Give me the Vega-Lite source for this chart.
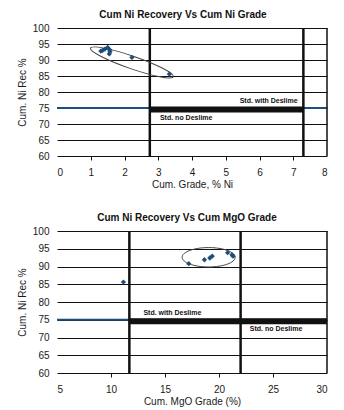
{
  "$schema": "https://vega.github.io/schema/vega-lite/v6.json",
  "background": "white",
  "padding": {"left": 17, "top": 10, "right": 5, "bottom": 5},
  "spacing": 24,
  "config": {
    "font": "Liberation Sans",
    "view": {"stroke": null},
    "title": {"fontSize": 10, "fontWeight": "bold", "color": "#111111", "offset": 3, "frame": "group"},
    "axis": {
      "labelFont": "Liberation Sans",
      "labelFontSize": 10,
      "labelColor": "#1a1a1a",
      "labelOverlap": false,
      "titleFont": "Liberation Sans",
      "titleFontSize": 10,
      "titleFontWeight": "normal",
      "titleColor": "#1a1a1a",
      "domain": false
    },
    "axisX": {
      "grid": false,
      "ticks": true,
      "tickSize": 4,
      "tickWidth": 1,
      "labelPadding": 7,
      "titlePadding": 2
    },
    "axisY": {
      "grid": true,
      "gridColor": "#111111",
      "gridWidth": 1,
      "gridOpacity": 1,
      "ticks": false,
      "labelPadding": 8,
      "titlePadding": 5
    }
  },
  "datasets": {
    "ni_grade": [
      {"grade": 1.3, "recovery": 92.8},
      {"grade": 1.35, "recovery": 93.0},
      {"grade": 1.42, "recovery": 93.4},
      {"grade": 1.5, "recovery": 93.9},
      {"grade": 1.56, "recovery": 93.2},
      {"grade": 1.57, "recovery": 92.6},
      {"grade": 1.55, "recovery": 91.9},
      {"grade": 2.22, "recovery": 90.8},
      {"grade": 3.33, "recovery": 85.6}
    ],
    "ni_limits": [{"grade": 2.75}, {"grade": 7.3}],
    "ni_band": [{"from": 2.75, "to": 7.3, "recovery": 74.5}],
    "ni_cluster": [{"grade": 2.22, "recovery": 89.24}],
    "ni_notes": [
      {"grade": 7.13, "recovery": 77.05, "note": "Std. with Deslime", "side": "right"},
      {"grade": 3.05, "recovery": 72.0, "note": "Std. no Deslime", "side": "left"}
    ],
    "mgo_grade": [
      {"mgo": 11.15, "recovery": 85.6},
      {"mgo": 17.2, "recovery": 90.8},
      {"mgo": 18.65, "recovery": 91.9},
      {"mgo": 19.15, "recovery": 92.4},
      {"mgo": 19.37, "recovery": 92.9},
      {"mgo": 20.8, "recovery": 93.9},
      {"mgo": 21.2, "recovery": 93.3},
      {"mgo": 21.3, "recovery": 92.9}
    ],
    "mgo_limits": [{"mgo": 11.7}, {"mgo": 22.0}],
    "mgo_band": [{"from": 11.7, "to": 30, "recovery": 74.6}],
    "mgo_cluster": [{"mgo": 19.04, "recovery": 92.6}],
    "mgo_notes": [
      {"mgo": 13.0, "recovery": 77.0, "note": "Std. with Deslime"},
      {"mgo": 22.85, "recovery": 72.4, "note": "Std. no Deslime"}
    ]
  },
  "vconcat": [
    {
      "width": 270,
      "height": 128,
      "title": {"text": "Cum Ni Recovery Vs Cum Ni Grade", "dx": -9},
      "layer": [
        {
          "data": {"name": "ni_band"},
          "mark": {"type": "rule", "color": "#1f4e7a", "strokeWidth": 2},
          "encoding": {
            "x": {"datum": 0, "type": "quantitative",
                  "scale": {"domain": [0, 8], "nice": false, "zero": false},
                  "axis": {"title": "Cum. Grade, % Ni", "values": [0, 1, 2, 3, 4, 5, 6, 7, 8],
                           "tickColor": {"condition": {"test": "datum.value === 0 || datum.value === 8", "value": null}, "value": "#111111"}}},
            "x2": {"datum": 8},
            "y": {"datum": 75, "type": "quantitative",
                  "scale": {"domain": [60, 100], "nice": false, "zero": false},
                  "axis": {"title": "Cum. Ni Rec %", "values": [60, 65, 70, 75, 80, 85, 90, 95, 100]}}
          }
        },
        {
          "data": {"name": "ni_band"},
          "mark": {"type": "rule", "color": "#111111", "strokeWidth": 6},
          "encoding": {
            "x": {"field": "from", "type": "quantitative",
                  "axis": {"title": "Cum. Grade, % Ni", "values": [0, 1, 2, 3, 4, 5, 6, 7, 8],
                           "tickColor": {"condition": {"test": "datum.value === 0 || datum.value === 8", "value": null}, "value": "#111111"}}},
            "x2": {"field": "to"},
            "y": {"field": "recovery", "type": "quantitative",
                  "axis": {"title": "Cum. Ni Rec %", "values": [60, 65, 70, 75, 80, 85, 90, 95, 100]}}
          }
        },
        {
          "data": {"name": "ni_limits"},
          "mark": {"type": "rule", "color": "#111111", "strokeWidth": 2.5},
          "encoding": {
            "x": {"field": "grade", "type": "quantitative",
                  "axis": {"title": "Cum. Grade, % Ni", "values": [0, 1, 2, 3, 4, 5, 6, 7, 8],
                           "tickColor": {"condition": {"test": "datum.value === 0 || datum.value === 8", "value": null}, "value": "#111111"}}}
          }
        },
        {
          "data": {"name": "ni_limits"},
          "mark": {"type": "rule", "color": "#111111", "strokeWidth": 1},
          "encoding": {
            "x": {"datum": 8, "type": "quantitative",
                  "axis": {"title": "Cum. Grade, % Ni", "values": [0, 1, 2, 3, 4, 5, 6, 7, 8],
                           "tickColor": {"condition": {"test": "datum.value === 0 || datum.value === 8", "value": null}, "value": "#111111"}}}
          }
        },
        {
          "data": {"name": "ni_cluster"},
          "mark": {
            "type": "point",
            "filled": false,
            "color": "#444444",
            "strokeWidth": 1,
            "opacity": 1,
            "size": 7674,
            "angle": 19,
            "shape": "M1,0C1,0.0795 0.5523,0.144 0,0.144C-0.5523,0.144 -1,0.0795 -1,0C-1,-0.0795 -0.5523,-0.144 0,-0.144C0.5523,-0.144 1,-0.0795 1,0Z"
          },
          "encoding": {
            "x": {"field": "grade", "type": "quantitative",
                  "axis": {"title": "Cum. Grade, % Ni", "values": [0, 1, 2, 3, 4, 5, 6, 7, 8],
                           "tickColor": {"condition": {"test": "datum.value === 0 || datum.value === 8", "value": null}, "value": "#111111"}}},
            "y": {"field": "recovery", "type": "quantitative",
                  "axis": {"title": "Cum. Ni Rec %", "values": [60, 65, 70, 75, 80, 85, 90, 95, 100]}}
          }
        },
        {
          "data": {"name": "ni_grade"},
          "mark": {"type": "point", "shape": "diamond", "filled": true, "color": "#1f4e7a", "size": 28, "opacity": 1},
          "encoding": {
            "x": {"field": "grade", "type": "quantitative",
                  "axis": {"title": "Cum. Grade, % Ni", "values": [0, 1, 2, 3, 4, 5, 6, 7, 8],
                           "tickColor": {"condition": {"test": "datum.value === 0 || datum.value === 8", "value": null}, "value": "#111111"}}},
            "y": {"field": "recovery", "type": "quantitative",
                  "axis": {"title": "Cum. Ni Rec %", "values": [60, 65, 70, 75, 80, 85, 90, 95, 100]}}
          }
        },
        {
          "data": {"name": "ni_notes"},
          "transform": [{"filter": "datum.side === 'right'"}],
          "mark": {"type": "text", "align": "right", "baseline": "middle", "fontSize": 7, "fontWeight": "bold", "color": "#111111"},
          "encoding": {
            "x": {"field": "grade", "type": "quantitative",
                  "axis": {"title": "Cum. Grade, % Ni", "values": [0, 1, 2, 3, 4, 5, 6, 7, 8],
                           "tickColor": {"condition": {"test": "datum.value === 0 || datum.value === 8", "value": null}, "value": "#111111"}}},
            "y": {"field": "recovery", "type": "quantitative",
                  "axis": {"title": "Cum. Ni Rec %", "values": [60, 65, 70, 75, 80, 85, 90, 95, 100]}},
            "text": {"field": "note"}
          }
        },
        {
          "data": {"name": "ni_notes"},
          "transform": [{"filter": "datum.side === 'left'"}],
          "mark": {"type": "text", "align": "left", "baseline": "middle", "fontSize": 7, "fontWeight": "bold", "color": "#111111"},
          "encoding": {
            "x": {"field": "grade", "type": "quantitative",
                  "axis": {"title": "Cum. Grade, % Ni", "values": [0, 1, 2, 3, 4, 5, 6, 7, 8],
                           "tickColor": {"condition": {"test": "datum.value === 0 || datum.value === 8", "value": null}, "value": "#111111"}}},
            "y": {"field": "recovery", "type": "quantitative",
                  "axis": {"title": "Cum. Ni Rec %", "values": [60, 65, 70, 75, 80, 85, 90, 95, 100]}},
            "text": {"field": "note"}
          }
        }
      ]
    },
    {
      "width": 270,
      "height": 142,
      "title": {"text": "Cum Ni Recovery Vs Cum MgO Grade", "dx": -5},
      "layer": [
        {
          "data": {"name": "mgo_band"},
          "mark": {"type": "rule", "color": "#1f4e7a", "strokeWidth": 2},
          "encoding": {
            "x": {"datum": 5, "type": "quantitative",
                  "scale": {"domain": [5, 30], "nice": false, "zero": false},
                  "axis": {"title": "Cum. MgO Grade (%)", "values": [5, 10, 15, 20, 25, 30],
                           "tickColor": {"condition": {"test": "datum.value === 5 || datum.value === 30", "value": null}, "value": "#111111"}}},
            "x2": {"datum": 30},
            "y": {"datum": 75, "type": "quantitative",
                  "scale": {"domain": [60, 100], "nice": false, "zero": false},
                  "axis": {"title": "Cum. Ni Rec %", "values": [60, 65, 70, 75, 80, 85, 90, 95, 100]}}
          }
        },
        {
          "data": {"name": "mgo_band"},
          "mark": {"type": "rule", "color": "#111111", "strokeWidth": 6},
          "encoding": {
            "x": {"field": "from", "type": "quantitative",
                  "axis": {"title": "Cum. MgO Grade (%)", "values": [5, 10, 15, 20, 25, 30],
                           "tickColor": {"condition": {"test": "datum.value === 5 || datum.value === 30", "value": null}, "value": "#111111"}}},
            "x2": {"field": "to"},
            "y": {"field": "recovery", "type": "quantitative",
                  "axis": {"title": "Cum. Ni Rec %", "values": [60, 65, 70, 75, 80, 85, 90, 95, 100]}}
          }
        },
        {
          "data": {"name": "mgo_limits"},
          "mark": {"type": "rule", "color": "#111111", "strokeWidth": 2.5},
          "encoding": {
            "x": {"field": "mgo", "type": "quantitative",
                  "axis": {"title": "Cum. MgO Grade (%)", "values": [5, 10, 15, 20, 25, 30],
                           "tickColor": {"condition": {"test": "datum.value === 5 || datum.value === 30", "value": null}, "value": "#111111"}}}
          }
        },
        {
          "data": {"name": "mgo_limits"},
          "mark": {"type": "rule", "color": "#111111", "strokeWidth": 1},
          "encoding": {
            "x": {"datum": 30, "type": "quantitative",
                  "axis": {"title": "Cum. MgO Grade (%)", "values": [5, 10, 15, 20, 25, 30],
                           "tickColor": {"condition": {"test": "datum.value === 5 || datum.value === 30", "value": null}, "value": "#111111"}}}
          }
        },
        {
          "data": {"name": "mgo_cluster"},
          "mark": {
            "type": "point",
            "filled": false,
            "color": "#444444",
            "strokeWidth": 1,
            "opacity": 1,
            "size": 2809,
            "shape": "M1,0C1,0.2021 0.5523,0.366 0,0.366C-0.5523,0.366 -1,0.2021 -1,0C-1,-0.2021 -0.5523,-0.366 0,-0.366C0.5523,-0.366 1,-0.2021 1,0Z"
          },
          "encoding": {
            "x": {"field": "mgo", "type": "quantitative",
                  "axis": {"title": "Cum. MgO Grade (%)", "values": [5, 10, 15, 20, 25, 30],
                           "tickColor": {"condition": {"test": "datum.value === 5 || datum.value === 30", "value": null}, "value": "#111111"}}},
            "y": {"field": "recovery", "type": "quantitative",
                  "axis": {"title": "Cum. Ni Rec %", "values": [60, 65, 70, 75, 80, 85, 90, 95, 100]}}
          }
        },
        {
          "data": {"name": "mgo_grade"},
          "mark": {"type": "point", "shape": "diamond", "filled": true, "color": "#1f4e7a", "size": 28, "opacity": 1},
          "encoding": {
            "x": {"field": "mgo", "type": "quantitative",
                  "axis": {"title": "Cum. MgO Grade (%)", "values": [5, 10, 15, 20, 25, 30],
                           "tickColor": {"condition": {"test": "datum.value === 5 || datum.value === 30", "value": null}, "value": "#111111"}}},
            "y": {"field": "recovery", "type": "quantitative",
                  "axis": {"title": "Cum. Ni Rec %", "values": [60, 65, 70, 75, 80, 85, 90, 95, 100]}}
          }
        },
        {
          "data": {"name": "mgo_notes"},
          "mark": {"type": "text", "align": "left", "baseline": "middle", "fontSize": 7, "fontWeight": "bold", "color": "#111111"},
          "encoding": {
            "x": {"field": "mgo", "type": "quantitative",
                  "axis": {"title": "Cum. MgO Grade (%)", "values": [5, 10, 15, 20, 25, 30],
                           "tickColor": {"condition": {"test": "datum.value === 5 || datum.value === 30", "value": null}, "value": "#111111"}}},
            "y": {"field": "recovery", "type": "quantitative",
                  "axis": {"title": "Cum. Ni Rec %", "values": [60, 65, 70, 75, 80, 85, 90, 95, 100]}},
            "text": {"field": "note"}
          }
        }
      ]
    }
  ]
}
